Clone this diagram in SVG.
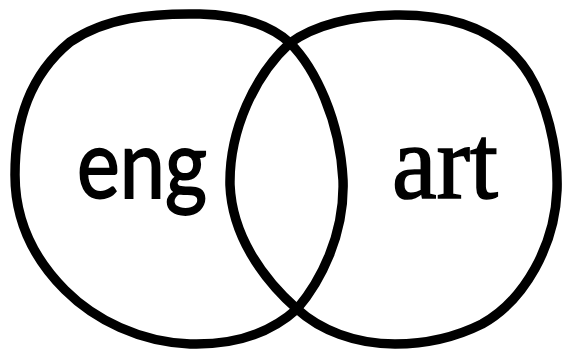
<svg xmlns="http://www.w3.org/2000/svg" width="565" height="352" viewBox="0 0 565 352">
  <style>
    .set { fill: none; stroke: #000; stroke-width: 9.5; stroke-linejoin: round; }
    .lbl { fill: #000; font-size: 95px; stroke: #000; }
    .eng { font-family: Lato, "Open Sans", "DejaVu Sans", sans-serif; stroke-width: 1.8; }
    .art { font-family: "Liberation Serif", "DejaVu Serif", serif; font-size: 105px; stroke-width: 1.6; }
  </style>
  <rect x="0" y="0" width="565" height="352" fill="#fff"/>
  <g id="set-eng">
    <path class="set" d="M 290,43 C 315,68 340,120 343,180 C 345,235 320,282 297,309 C 265,338 225,345 190,344 C 140,342 95,320 65,290 C 30,255 15,215 15,175 C 15,120 30,75 70,42 C 105,18 150,13 200,14 C 240,15 270,25 290,43 Z"/>
    <text class="lbl eng" x="77" y="198" textLength="130" lengthAdjust="spacingAndGlyphs">eng</text>
  </g>
  <g id="set-art">
    <path class="set" d="M 290,43 C 315,25 350,16 395,15 C 460,14 510,35 535,85 C 552,120 558,160 557,190 C 555,245 525,300 482,324 C 450,340 420,344 395,344 C 355,344 320,330 297,309 C 262,278 232,235 230,185 C 229,130 255,75 290,43 Z"/>
    <text class="lbl art" x="392" y="198" textLength="106" lengthAdjust="spacingAndGlyphs">art</text>
  </g>
</svg>
